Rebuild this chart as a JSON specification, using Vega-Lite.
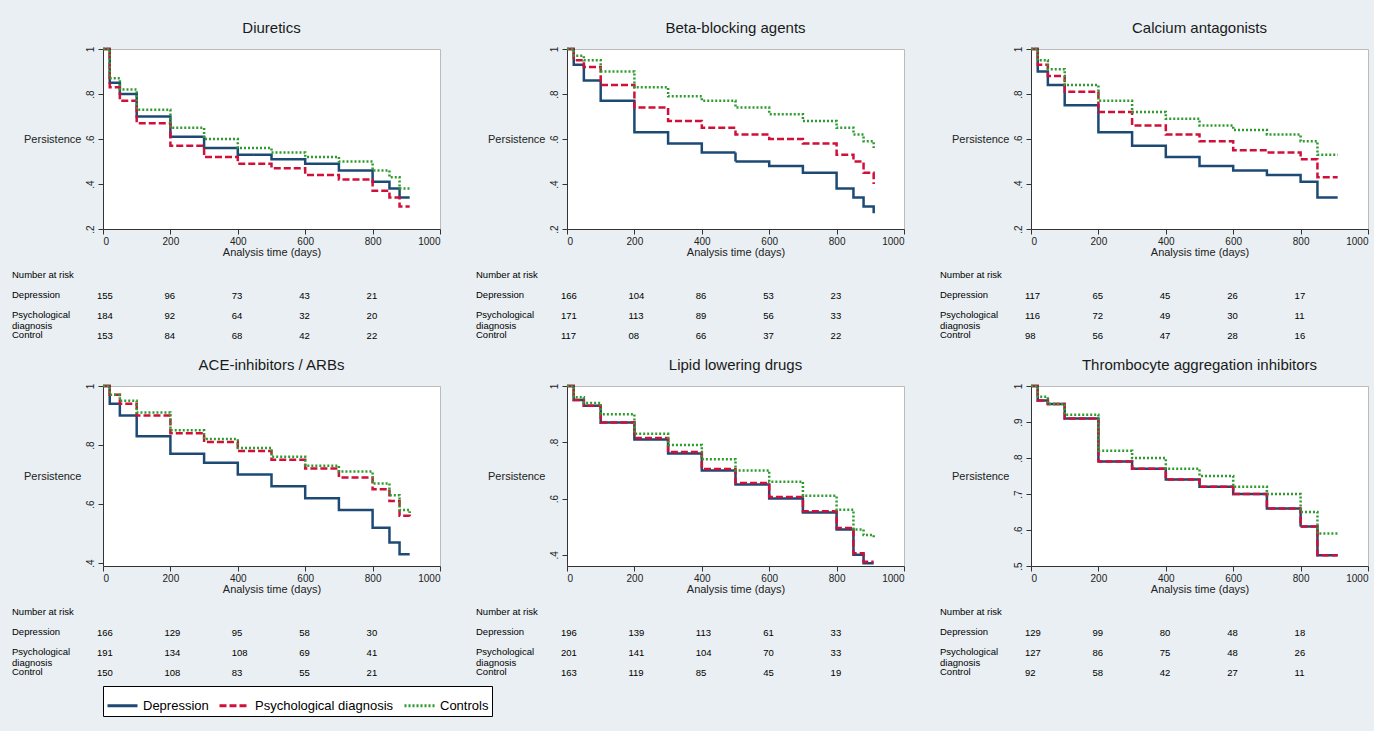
{
"$schema":"https://vega.github.io/schema/vega-lite/v6.json",
"background":"#e9eff2",
"padding":{"left":12,"top":20,"right":5,"bottom":30},
"datasets":{
"km":[
{"d":"D","t":0,"Depression":1,"Psychological diagnosis":1,"Controls":1},
{"d":"D","t":20,"Depression":0.85,"Psychological diagnosis":0.83,"Controls":0.87},
{"d":"D","t":50,"Depression":0.80,"Psychological diagnosis":0.77,"Controls":0.82},
{"d":"D","t":100,"Depression":0.70,"Psychological diagnosis":0.67,"Controls":0.73},
{"d":"D","t":200,"Depression":0.61,"Psychological diagnosis":0.57,"Controls":0.65},
{"d":"D","t":300,"Depression":0.56,"Psychological diagnosis":0.52,"Controls":0.60},
{"d":"D","t":400,"Depression":0.53,"Psychological diagnosis":0.49,"Controls":0.56},
{"d":"D","t":500,"Depression":0.51,"Psychological diagnosis":0.47,"Controls":0.54},
{"d":"D","t":600,"Depression":0.49,"Psychological diagnosis":0.44,"Controls":0.52},
{"d":"D","t":700,"Depression":0.46,"Psychological diagnosis":0.42,"Controls":0.50},
{"d":"D","t":800,"Depression":0.41,"Psychological diagnosis":0.37,"Controls":0.46},
{"d":"D","t":850,"Depression":0.38,"Psychological diagnosis":0.34,"Controls":0.43},
{"d":"D","t":880,"Depression":0.34,"Psychological diagnosis":0.30,"Controls":0.38},
{"d":"D","t":910,"Depression":0.34,"Psychological diagnosis":0.30,"Controls":0.38},
{"d":"B","t":0,"Depression":1,"Psychological diagnosis":1,"Controls":1},
{"d":"B","t":20,"Depression":0.93,"Psychological diagnosis":0.95,"Controls":0.97},
{"d":"B","t":50,"Depression":0.86,"Psychological diagnosis":0.92,"Controls":0.95},
{"d":"B","t":100,"Depression":0.77,"Psychological diagnosis":0.84,"Controls":0.90},
{"d":"B","t":200,"Depression":0.63,"Psychological diagnosis":0.74,"Controls":0.83},
{"d":"B","t":300,"Depression":0.58,"Psychological diagnosis":0.68,"Controls":0.79},
{"d":"B","t":400,"Depression":0.54,"Psychological diagnosis":0.65,"Controls":0.77},
{"d":"B","t":500,"Depression":0.50,"Psychological diagnosis":0.62,"Controls":0.74},
{"d":"B","t":600,"Depression":0.48,"Psychological diagnosis":0.60,"Controls":0.71},
{"d":"B","t":700,"Depression":0.45,"Psychological diagnosis":0.58,"Controls":0.68},
{"d":"B","t":800,"Depression":0.38,"Psychological diagnosis":0.53,"Controls":0.65},
{"d":"B","t":850,"Depression":0.34,"Psychological diagnosis":0.50,"Controls":0.62},
{"d":"B","t":880,"Depression":0.30,"Psychological diagnosis":0.45,"Controls":0.59},
{"d":"B","t":910,"Depression":0.27,"Psychological diagnosis":0.40,"Controls":0.56},
{"d":"C","t":0,"Depression":1,"Psychological diagnosis":1,"Controls":1},
{"d":"C","t":20,"Depression":0.90,"Psychological diagnosis":0.93,"Controls":0.95},
{"d":"C","t":50,"Depression":0.84,"Psychological diagnosis":0.88,"Controls":0.91},
{"d":"C","t":100,"Depression":0.75,"Psychological diagnosis":0.81,"Controls":0.84},
{"d":"C","t":200,"Depression":0.63,"Psychological diagnosis":0.72,"Controls":0.77},
{"d":"C","t":300,"Depression":0.57,"Psychological diagnosis":0.66,"Controls":0.72},
{"d":"C","t":400,"Depression":0.52,"Psychological diagnosis":0.62,"Controls":0.69},
{"d":"C","t":500,"Depression":0.48,"Psychological diagnosis":0.59,"Controls":0.66},
{"d":"C","t":600,"Depression":0.46,"Psychological diagnosis":0.55,"Controls":0.64},
{"d":"C","t":700,"Depression":0.44,"Psychological diagnosis":0.54,"Controls":0.62},
{"d":"C","t":800,"Depression":0.41,"Psychological diagnosis":0.51,"Controls":0.59},
{"d":"C","t":850,"Depression":0.34,"Psychological diagnosis":0.43,"Controls":0.53},
{"d":"C","t":880,"Depression":0.34,"Psychological diagnosis":0.43,"Controls":0.53},
{"d":"C","t":910,"Depression":0.34,"Psychological diagnosis":0.43,"Controls":0.53},
{"d":"A","t":0,"Depression":1,"Psychological diagnosis":1,"Controls":1},
{"d":"A","t":20,"Depression":0.94,"Psychological diagnosis":0.97,"Controls":0.97},
{"d":"A","t":50,"Depression":0.90,"Psychological diagnosis":0.94,"Controls":0.95},
{"d":"A","t":100,"Depression":0.83,"Psychological diagnosis":0.90,"Controls":0.91},
{"d":"A","t":200,"Depression":0.77,"Psychological diagnosis":0.84,"Controls":0.85},
{"d":"A","t":300,"Depression":0.74,"Psychological diagnosis":0.81,"Controls":0.82},
{"d":"A","t":400,"Depression":0.70,"Psychological diagnosis":0.78,"Controls":0.79},
{"d":"A","t":500,"Depression":0.66,"Psychological diagnosis":0.75,"Controls":0.76},
{"d":"A","t":600,"Depression":0.62,"Psychological diagnosis":0.72,"Controls":0.73},
{"d":"A","t":700,"Depression":0.58,"Psychological diagnosis":0.69,"Controls":0.71},
{"d":"A","t":800,"Depression":0.52,"Psychological diagnosis":0.65,"Controls":0.67},
{"d":"A","t":850,"Depression":0.47,"Psychological diagnosis":0.61,"Controls":0.63},
{"d":"A","t":880,"Depression":0.43,"Psychological diagnosis":0.56,"Controls":0.58},
{"d":"A","t":910,"Depression":0.43,"Psychological diagnosis":0.55,"Controls":0.57},
{"d":"L","t":0,"Depression":1,"Psychological diagnosis":1,"Controls":1},
{"d":"L","t":20,"Depression":0.95,"Psychological diagnosis":0.95,"Controls":0.96},
{"d":"L","t":50,"Depression":0.93,"Psychological diagnosis":0.93,"Controls":0.94},
{"d":"L","t":100,"Depression":0.87,"Psychological diagnosis":0.87,"Controls":0.90},
{"d":"L","t":200,"Depression":0.81,"Psychological diagnosis":0.815,"Controls":0.83},
{"d":"L","t":300,"Depression":0.76,"Psychological diagnosis":0.765,"Controls":0.79},
{"d":"L","t":400,"Depression":0.70,"Psychological diagnosis":0.705,"Controls":0.74},
{"d":"L","t":500,"Depression":0.65,"Psychological diagnosis":0.655,"Controls":0.70},
{"d":"L","t":600,"Depression":0.60,"Psychological diagnosis":0.605,"Controls":0.66},
{"d":"L","t":700,"Depression":0.55,"Psychological diagnosis":0.555,"Controls":0.61},
{"d":"L","t":800,"Depression":0.49,"Psychological diagnosis":0.495,"Controls":0.56},
{"d":"L","t":850,"Depression":0.40,"Psychological diagnosis":0.405,"Controls":0.49},
{"d":"L","t":880,"Depression":0.37,"Psychological diagnosis":0.375,"Controls":0.47},
{"d":"L","t":910,"Depression":0.37,"Psychological diagnosis":0.375,"Controls":0.46},
{"d":"T","t":0,"Depression":1,"Psychological diagnosis":1,"Controls":1},
{"d":"T","t":20,"Depression":0.96,"Psychological diagnosis":0.96,"Controls":0.97},
{"d":"T","t":50,"Depression":0.95,"Psychological diagnosis":0.95,"Controls":0.95},
{"d":"T","t":100,"Depression":0.91,"Psychological diagnosis":0.91,"Controls":0.92},
{"d":"T","t":200,"Depression":0.79,"Psychological diagnosis":0.79,"Controls":0.82},
{"d":"T","t":300,"Depression":0.77,"Psychological diagnosis":0.77,"Controls":0.80},
{"d":"T","t":400,"Depression":0.74,"Psychological diagnosis":0.74,"Controls":0.77},
{"d":"T","t":500,"Depression":0.72,"Psychological diagnosis":0.72,"Controls":0.75},
{"d":"T","t":600,"Depression":0.70,"Psychological diagnosis":0.70,"Controls":0.72},
{"d":"T","t":700,"Depression":0.66,"Psychological diagnosis":0.66,"Controls":0.70},
{"d":"T","t":800,"Depression":0.61,"Psychological diagnosis":0.61,"Controls":0.65},
{"d":"T","t":850,"Depression":0.53,"Psychological diagnosis":0.53,"Controls":0.59},
{"d":"T","t":880,"Depression":0.53,"Psychological diagnosis":0.53,"Controls":0.59},
{"d":"T","t":910,"Depression":0.53,"Psychological diagnosis":0.53,"Controls":0.59}
],
"risk":[
{"d":"D","t":0,"Depression":"155","Psychological":"184","Control":"153"},
{"d":"D","t":200,"Depression":"96","Psychological":"92","Control":"84"},
{"d":"D","t":400,"Depression":"73","Psychological":"64","Control":"68"},
{"d":"D","t":600,"Depression":"43","Psychological":"32","Control":"42"},
{"d":"D","t":800,"Depression":"21","Psychological":"20","Control":"22"},
{"d":"B","t":0,"Depression":"166","Psychological":"171","Control":"117"},
{"d":"B","t":200,"Depression":"104","Psychological":"113","Control":"08"},
{"d":"B","t":400,"Depression":"86","Psychological":"89","Control":"66"},
{"d":"B","t":600,"Depression":"53","Psychological":"56","Control":"37"},
{"d":"B","t":800,"Depression":"23","Psychological":"33","Control":"22"},
{"d":"C","t":0,"Depression":"117","Psychological":"116","Control":"98"},
{"d":"C","t":200,"Depression":"65","Psychological":"72","Control":"56"},
{"d":"C","t":400,"Depression":"45","Psychological":"49","Control":"47"},
{"d":"C","t":600,"Depression":"26","Psychological":"30","Control":"28"},
{"d":"C","t":800,"Depression":"17","Psychological":"11","Control":"16"},
{"d":"A","t":0,"Depression":"166","Psychological":"191","Control":"150"},
{"d":"A","t":200,"Depression":"129","Psychological":"134","Control":"108"},
{"d":"A","t":400,"Depression":"95","Psychological":"108","Control":"83"},
{"d":"A","t":600,"Depression":"58","Psychological":"69","Control":"55"},
{"d":"A","t":800,"Depression":"30","Psychological":"41","Control":"21"},
{"d":"L","t":0,"Depression":"196","Psychological":"201","Control":"163"},
{"d":"L","t":200,"Depression":"139","Psychological":"141","Control":"119"},
{"d":"L","t":400,"Depression":"113","Psychological":"104","Control":"85"},
{"d":"L","t":600,"Depression":"61","Psychological":"70","Control":"45"},
{"d":"L","t":800,"Depression":"33","Psychological":"33","Control":"19"},
{"d":"T","t":0,"Depression":"129","Psychological":"127","Control":"92"},
{"d":"T","t":200,"Depression":"99","Psychological":"86","Control":"58"},
{"d":"T","t":400,"Depression":"80","Psychological":"75","Control":"42"},
{"d":"T","t":600,"Depression":"48","Psychological":"48","Control":"27"},
{"d":"T","t":800,"Depression":"18","Psychological":"26","Control":"11"}
],
"labels":[
{"row":"hdr","txt":"Number at risk"},
{"row":"Depression","txt":"Depression"},
{"row":"Psychological","txt":"Psychological\ndiagnosis"},
{"row":"Control","txt":"Control"}
]
},
"config":{
"font":"Liberation Sans",
"view":{"fill":"white","stroke":"#bbbbbb"},
"title":{"fontSize":15,"fontWeight":"normal","color":"#1a1a1a","offset":8},
"axis":{"grid":false,"domainColor":"#333","tickColor":"#333","labelColor":"#222","titleColor":"#222","labelFontSize":10,"titleFontSize":11,"titleFontWeight":"normal"},
"axisX":{"titlePadding":0,"labelPadding":2,"labelExpr":"datum.value"},
"axisY":{"titleAngle":0,"titleAlign":"right","titleBaseline":"middle","titleY":90,"titleX":-22,"labelAngle":270,"labelAlign":"center","labelBaseline":"bottom","labelPadding":3},
"legend":{"orient":"bottom","direction":"horizontal","title":null,"strokeColor":"#000","fillColor":"white","padding":3,"labelFontSize":13,"labelColor":"#000","symbolType":"stroke","symbolSize":900,"symbolStrokeWidth":3,"columnPadding":4,"offset":8}
},
"resolve":{"scale":{"color":"shared","strokeDash":"shared"}},
"columns":3,
"spacing":{"row":16,"column":35},
"concat":[
{"vconcat":[
{"title":"Diuretics","width":337,"height":180,"data":{"name":"km"},"transform":[{"filter":"datum.d=='D'"},{"fold":["Depression","Psychological diagnosis","Controls"],"as":["g","s"]}],
"mark":{"type":"line","interpolate":"step-after","strokeWidth":2.5},
"encoding":{"x":{"field":"t","type":"quantitative","scale":{"domain":[0,1000]},"axis":{"title":"Analysis time (days)","values":[0,200,400,600,800,1000]}},"y":{"field":"s","type":"quantitative","scale":{"domain":[0.2,1]},"axis":{"title":"Persistence","values":[0.2,0.4,0.6,0.8,1],"labelExpr":"datum.value==1?'1':replace(format(datum.value,'.1f'),'0.','.')"}},
"color":{"field":"g","type":"nominal","scale":{"domain":["Depression","Psychological diagnosis","Controls"],"range":["#1c4a75","#d0103a","#2e9b2e"]}},
"strokeDash":{"field":"g","type":"nominal","scale":{"domain":["Depression","Psychological diagnosis","Controls"],"range":[[1,0],[7,3],[2,2]]}}}},
{"width":337,"height":60,"view":{"fill":null,"stroke":null},"layer":[
{"data":{"name":"risk"},"transform":[{"filter":"datum.d=='D'"},{"fold":["Depression","Psychological","Control"],"as":["row","n"]}],"mark":{"type":"text","align":"left","dx":-6,"fontSize":9.5,"color":"#000"},"encoding":{"x":{"field":"t","type":"quantitative","scale":{"domain":[0,1000]},"axis":null},"y":{"field":"row","type":"nominal","scale":{"domain":["hdr","Depression","Psychological","Control"],"padding":0},"axis":null},"text":{"field":"n"}}},
{"data":{"name":"labels"},"mark":{"type":"text","align":"left","baseline":"top","dy":-6,"fontSize":9.5,"lineBreak":"\n","lineHeight":11,"color":"#000"},"encoding":{"x":{"datum":-270,"type":"quantitative"},"y":{"field":"row","type":"nominal","axis":null},"text":{"field":"txt"}}}
]}
],"spacing":12},
{"vconcat":[
{"title":"Beta-blocking agents","width":337,"height":180,"data":{"name":"km"},"transform":[{"filter":"datum.d=='B'"},{"fold":["Depression","Psychological diagnosis","Controls"],"as":["g","s"]}],
"mark":{"type":"line","interpolate":"step-after","strokeWidth":2.5},
"encoding":{"x":{"field":"t","type":"quantitative","scale":{"domain":[0,1000]},"axis":{"title":"Analysis time (days)","values":[0,200,400,600,800,1000]}},"y":{"field":"s","type":"quantitative","scale":{"domain":[0.2,1]},"axis":{"title":"Persistence","values":[0.2,0.4,0.6,0.8,1],"labelExpr":"datum.value==1?'1':replace(format(datum.value,'.1f'),'0.','.')"}},
"color":{"field":"g","type":"nominal"},"strokeDash":{"field":"g","type":"nominal"}}},
{"width":337,"height":60,"view":{"fill":null,"stroke":null},"layer":[
{"data":{"name":"risk"},"transform":[{"filter":"datum.d=='B'"},{"fold":["Depression","Psychological","Control"],"as":["row","n"]}],"mark":{"type":"text","align":"left","dx":-6,"fontSize":9.5,"color":"#000"},"encoding":{"x":{"field":"t","type":"quantitative","scale":{"domain":[0,1000]},"axis":null},"y":{"field":"row","type":"nominal","scale":{"domain":["hdr","Depression","Psychological","Control"],"padding":0},"axis":null},"text":{"field":"n"}}},
{"data":{"name":"labels"},"mark":{"type":"text","align":"left","baseline":"top","dy":-6,"fontSize":9.5,"lineBreak":"\n","lineHeight":11,"color":"#000"},"encoding":{"x":{"datum":-270,"type":"quantitative"},"y":{"field":"row","type":"nominal","axis":null},"text":{"field":"txt"}}}
]}
],"spacing":12},
{"vconcat":[
{"title":"Calcium antagonists","width":337,"height":180,"data":{"name":"km"},"transform":[{"filter":"datum.d=='C'"},{"fold":["Depression","Psychological diagnosis","Controls"],"as":["g","s"]}],
"mark":{"type":"line","interpolate":"step-after","strokeWidth":2.5},
"encoding":{"x":{"field":"t","type":"quantitative","scale":{"domain":[0,1000]},"axis":{"title":"Analysis time (days)","values":[0,200,400,600,800,1000]}},"y":{"field":"s","type":"quantitative","scale":{"domain":[0.2,1]},"axis":{"title":"Persistence","values":[0.2,0.4,0.6,0.8,1],"labelExpr":"datum.value==1?'1':replace(format(datum.value,'.1f'),'0.','.')"}},
"color":{"field":"g","type":"nominal"},"strokeDash":{"field":"g","type":"nominal"}}},
{"width":337,"height":60,"view":{"fill":null,"stroke":null},"layer":[
{"data":{"name":"risk"},"transform":[{"filter":"datum.d=='C'"},{"fold":["Depression","Psychological","Control"],"as":["row","n"]}],"mark":{"type":"text","align":"left","dx":-6,"fontSize":9.5,"color":"#000"},"encoding":{"x":{"field":"t","type":"quantitative","scale":{"domain":[0,1000]},"axis":null},"y":{"field":"row","type":"nominal","scale":{"domain":["hdr","Depression","Psychological","Control"],"padding":0},"axis":null},"text":{"field":"n"}}},
{"data":{"name":"labels"},"mark":{"type":"text","align":"left","baseline":"top","dy":-6,"fontSize":9.5,"lineBreak":"\n","lineHeight":11,"color":"#000"},"encoding":{"x":{"datum":-270,"type":"quantitative"},"y":{"field":"row","type":"nominal","axis":null},"text":{"field":"txt"}}}
]}
],"spacing":12},
{"vconcat":[
{"title":"ACE-inhibitors / ARBs","width":337,"height":180,"data":{"name":"km"},"transform":[{"filter":"datum.d=='A'"},{"fold":["Depression","Psychological diagnosis","Controls"],"as":["g","s"]}],
"mark":{"type":"line","interpolate":"step-after","strokeWidth":2.5},
"encoding":{"x":{"field":"t","type":"quantitative","scale":{"domain":[0,1000]},"axis":{"title":"Analysis time (days)","values":[0,200,400,600,800,1000]}},"y":{"field":"s","type":"quantitative","scale":{"domain":[0.39,1]},"axis":{"title":"Persistence","values":[0.4,0.6,0.8,1],"labelExpr":"datum.value==1?'1':replace(format(datum.value,'.1f'),'0.','.')"}},
"color":{"field":"g","type":"nominal"},"strokeDash":{"field":"g","type":"nominal"}}},
{"width":337,"height":60,"view":{"fill":null,"stroke":null},"layer":[
{"data":{"name":"risk"},"transform":[{"filter":"datum.d=='A'"},{"fold":["Depression","Psychological","Control"],"as":["row","n"]}],"mark":{"type":"text","align":"left","dx":-6,"fontSize":9.5,"color":"#000"},"encoding":{"x":{"field":"t","type":"quantitative","scale":{"domain":[0,1000]},"axis":null},"y":{"field":"row","type":"nominal","scale":{"domain":["hdr","Depression","Psychological","Control"],"padding":0},"axis":null},"text":{"field":"n"}}},
{"data":{"name":"labels"},"mark":{"type":"text","align":"left","baseline":"top","dy":-6,"fontSize":9.5,"lineBreak":"\n","lineHeight":11,"color":"#000"},"encoding":{"x":{"datum":-270,"type":"quantitative"},"y":{"field":"row","type":"nominal","axis":null},"text":{"field":"txt"}}}
]}
],"spacing":12},
{"vconcat":[
{"title":"Lipid lowering drugs","width":337,"height":180,"data":{"name":"km"},"transform":[{"filter":"datum.d=='L'"},{"fold":["Depression","Psychological diagnosis","Controls"],"as":["g","s"]}],
"mark":{"type":"line","interpolate":"step-after","strokeWidth":2.5},
"encoding":{"x":{"field":"t","type":"quantitative","scale":{"domain":[0,1000]},"axis":{"title":"Analysis time (days)","values":[0,200,400,600,800,1000]}},"y":{"field":"s","type":"quantitative","scale":{"domain":[0.36,1]},"axis":{"title":"Persistence","values":[0.4,0.6,0.8,1],"labelExpr":"datum.value==1?'1':replace(format(datum.value,'.1f'),'0.','.')"}},
"color":{"field":"g","type":"nominal"},"strokeDash":{"field":"g","type":"nominal"}}},
{"width":337,"height":60,"view":{"fill":null,"stroke":null},"layer":[
{"data":{"name":"risk"},"transform":[{"filter":"datum.d=='L'"},{"fold":["Depression","Psychological","Control"],"as":["row","n"]}],"mark":{"type":"text","align":"left","dx":-6,"fontSize":9.5,"color":"#000"},"encoding":{"x":{"field":"t","type":"quantitative","scale":{"domain":[0,1000]},"axis":null},"y":{"field":"row","type":"nominal","scale":{"domain":["hdr","Depression","Psychological","Control"],"padding":0},"axis":null},"text":{"field":"n"}}},
{"data":{"name":"labels"},"mark":{"type":"text","align":"left","baseline":"top","dy":-6,"fontSize":9.5,"lineBreak":"\n","lineHeight":11,"color":"#000"},"encoding":{"x":{"datum":-270,"type":"quantitative"},"y":{"field":"row","type":"nominal","axis":null},"text":{"field":"txt"}}}
]}
],"spacing":12},
{"vconcat":[
{"title":"Thrombocyte aggregation inhibitors","width":337,"height":180,"data":{"name":"km"},"transform":[{"filter":"datum.d=='T'"},{"fold":["Depression","Psychological diagnosis","Controls"],"as":["g","s"]}],
"mark":{"type":"line","interpolate":"step-after","strokeWidth":2.5},
"encoding":{"x":{"field":"t","type":"quantitative","scale":{"domain":[0,1000]},"axis":{"title":"Analysis time (days)","values":[0,200,400,600,800,1000]}},"y":{"field":"s","type":"quantitative","scale":{"domain":[0.5,1]},"axis":{"title":"Persistence","values":[0.5,0.6,0.7,0.8,0.9,1],"labelExpr":"datum.value==1?'1':replace(format(datum.value,'.1f'),'0.','.')"}},
"color":{"field":"g","type":"nominal"},"strokeDash":{"field":"g","type":"nominal"}}},
{"width":337,"height":60,"view":{"fill":null,"stroke":null},"layer":[
{"data":{"name":"risk"},"transform":[{"filter":"datum.d=='T'"},{"fold":["Depression","Psychological","Control"],"as":["row","n"]}],"mark":{"type":"text","align":"left","dx":-6,"fontSize":9.5,"color":"#000"},"encoding":{"x":{"field":"t","type":"quantitative","scale":{"domain":[0,1000]},"axis":null},"y":{"field":"row","type":"nominal","scale":{"domain":["hdr","Depression","Psychological","Control"],"padding":0},"axis":null},"text":{"field":"n"}}},
{"data":{"name":"labels"},"mark":{"type":"text","align":"left","baseline":"top","dy":-6,"fontSize":9.5,"lineBreak":"\n","lineHeight":11,"color":"#000"},"encoding":{"x":{"datum":-270,"type":"quantitative"},"y":{"field":"row","type":"nominal","axis":null},"text":{"field":"txt"}}}
]}
],"spacing":12}
]
}
